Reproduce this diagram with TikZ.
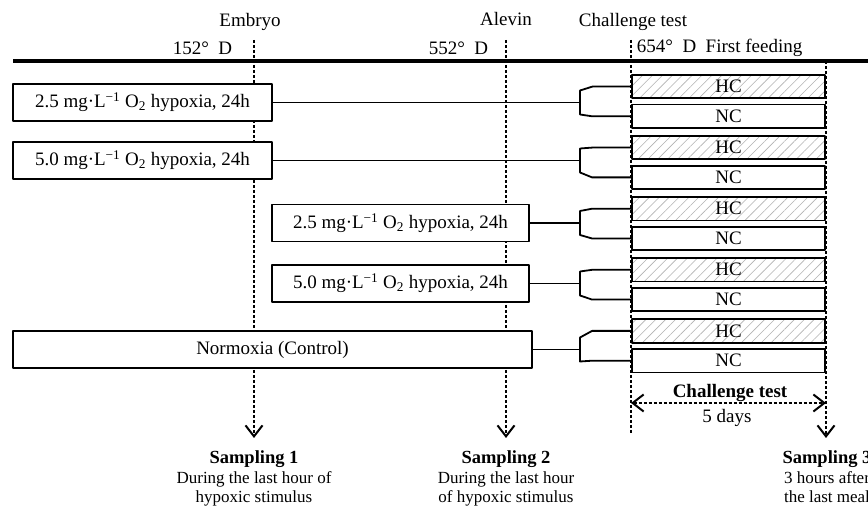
\documentclass[tikz,border=0pt]{standalone}
\usepackage{fontspec}
\setmainfont{Liberation Serif}
\usetikzlibrary{arrows.meta,patterns.meta,calc}

\tikzset{every picture/.style={line width=1.8pt, font=\fontsize{19pt}{22pt}\selectfont}}
\tikzset{
  box/.style={draw, fill=white, minimum width=#1, minimum height=37pt,
                inner sep=0pt, outer sep=0pt},
  box/.default={259pt}, % width of the long hypoxia boxes
  bar/.style={draw, minimum width=193pt, minimum height=23.5pt, inner sep=0pt},
  nc/.style={bar, fill=white},
  hc/.style={bar, preaction={fill=white}, pattern color=black!30,
                pattern={Lines[angle=45,distance=7pt,line width=0.6pt]}},
  guide/.style={line width=1.4pt, dash pattern=on 3.5pt off 1.5pt},
  note/.style={align=center, anchor=north, inner sep=0pt,
                font=\fontsize{17pt}{19.5pt}\selectfont},
  lbl/.style={inner sep=0pt},
}
\def\gap{29.8}
\def\fx{580}

\begin{document}
\begin{tikzpicture}[x=1pt, y=-1pt, line join=round,
    >={Straight Barb[length=11pt,width=17pt,line width=2pt]}]
  \useasboundingbox (0,0) rectangle (868,510);
  % stage labels above the time line
  \node[lbl, anchor=base] (emb) at (250,27) {Embryo};
  \node[lbl, anchor=base east] (d1) at (233,55) {152°\enspace D};
  \node[lbl, anchor=base] (alv) at (506,26) {Alevin};
  \node[lbl, anchor=base east] (d2) at (489,55) {552°\enspace D};
  \node[lbl, anchor=base west] (cht) at (578,27) {Challenge test};
  \node[lbl, anchor=base west] (d3) at (636,53) {654°\enspace D\enspace First feeding};
  % time line
  \draw[line width=4pt] (13,61) -- (868,61);
  % sampling notes
  \node[note] (s1) at (254,450) {{\fontsize{18.5pt}{19.5pt}\selectfont\bfseries Sampling 1}\\During the last hour of\\hypoxic stimulus};
  \node[note] (s2) at (506,450) {{\fontsize{18.5pt}{19.5pt}\selectfont\bfseries Sampling 2}\\During the last hour\\of hypoxic stimulus};
  \node[note] (s3) at (827,450) {{\fontsize{18.5pt}{19.5pt}\selectfont\bfseries Sampling 3}\\3 hours after\\the last meal};
  % dashed guides
  \coordinate (g1) at (254,40);
  \coordinate (g2) at (506,40);
  \coordinate (g3) at (631,40);
  \coordinate (g4) at (826,61);
  \coordinate (c1) at (631,433);
  \coordinate (a1) at (631,403);
  \coordinate (a2) at (826,403);
  \draw[guide,->,shorten >=12pt] (g1) -- (g1 |- s1.north);
  \draw[guide,->,shorten >=12pt] (g2) -- (g2 |- s2.north);
  \draw[guide,->,shorten >=12pt] (g4) -- (g4 |- s3.north);
  \draw[guide] (g3) -- (c1);
  \draw[guide,<->] (a1) -- (a2);
  \node[lbl, anchor=base, font=\fontsize{19pt}{22pt}\selectfont\bfseries] (ctb) at (730,398) {Challenge test};
  \node[lbl, anchor=base] (days) at (727,423) {5 days};
  % treatment boxes
  \node[box] (b1) at (142.5,102.5) {2.5 mg·L\textsuperscript{−1} O\textsubscript{2} hypoxia, 24h};
  \node[box] (b2) at (142.5,160.5) {5.0 mg·L\textsuperscript{−1} O\textsubscript{2} hypoxia, 24h};
  \node[box=257pt] (b3) at (400.5,223) {2.5 mg·L\textsuperscript{−1} O\textsubscript{2} hypoxia, 24h};
  \node[box=257pt] (b4) at (400.5,283.5) {5.0 mg·L\textsuperscript{−1} O\textsubscript{2} hypoxia, 24h};
  \node[box=519pt] (b5) at (272.5,349.5) {Normoxia (Control)};
  % challenge groups and forks
  \coordinate (fk) at (\fx,0);
  \foreach \h [count=\p] in {86.5,147.6,208.7,269.8,330.9} {
      \node[hc] (h\p) at (728.5,\h) {HC};
      \node[nc] (n\p) at (728.5,\h+\gap) {NC};
      \draw (b\p.east) -- (b\p.east -| fk);
      \draw (h\p.west) -- ++(-39,0) -- ($(b\p.east -| fk)+(0,-12)$)
        -- ($(b\p.east -| fk)+(0,12)$) -- ([xshift=-39pt]n\p.west) -- (n\p.west);
  };
\end{tikzpicture}
\end{document}
